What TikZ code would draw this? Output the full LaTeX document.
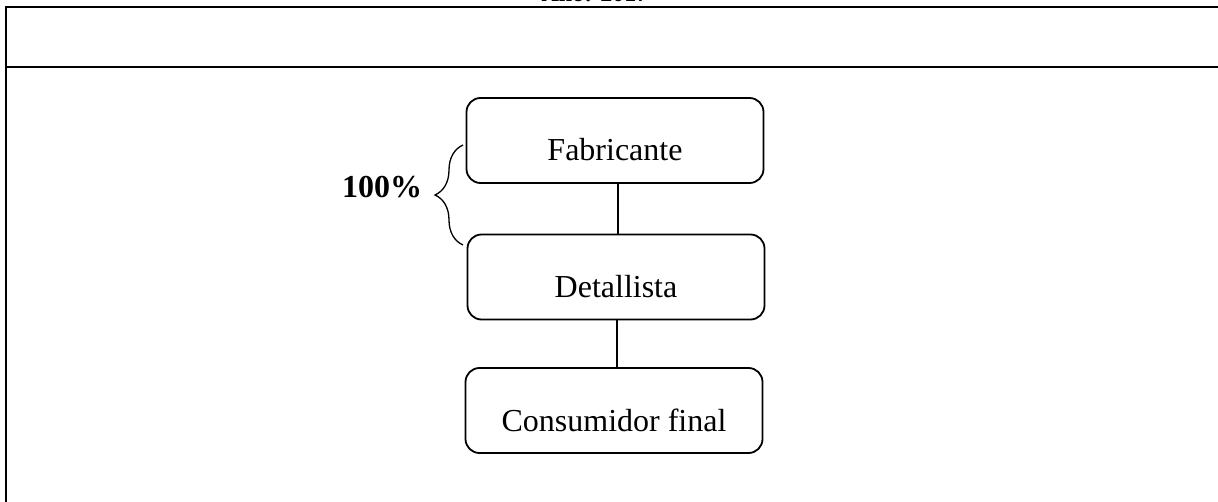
\documentclass[tikz,border=0pt]{standalone}
\usepackage{fontspec}
\setmainfont{Liberation Serif}
\usetikzlibrary{decorations.pathreplacing}
\begin{document}
\begin{tikzpicture}[x=1pt,y=-1pt,
  stage/.style={draw, line width=1.8pt, rounded corners=14pt, minimum width=297pt, minimum height=85pt, font=\fontsize{32}{36}\selectfont, inner sep=0pt, text height=41pt, text depth=0pt},
  frameline/.style={line width=1.4pt},
  link/.style={line width=1.6pt}]
\useasboundingbox (0,0) rectangle (1218,502);
\clip (0,0) rectangle (1218,502);
% partly visible heading
\node[anchor=base, font=\bfseries\fontsize{24}{28}\selectfont, inner sep=0pt] (head) at (595,2) {Año: 2017};
% frame
\coordinate (tl) at (6,7);
\coordinate (tr) at (1218,7);
\coordinate (ml) at (6,67);
\coordinate (mr) at (1218,67);
\coordinate (bl) at (6,502);
\draw[frameline] (tr) -- (tl) -- (bl);
\draw[frameline] (ml) -- (mr);
% stages
\node[stage] (fab) at (615,140.5) {Fabricante};
\node[stage] (det) at (616,277) {Detallista};
\node[stage] (con) at (614,410.5) {Consumidor final};
\draw[link] (fab.south -| 618,0) -- (det.north -| 618,0);
\draw[link] (det.south -| 617,0) -- (con.north -| 617,0);
% brace
\coordinate (bb) at (463,245);
\coordinate (bt) at (463,145);
\draw[line width=1.3pt, decoration={brace, amplitude=28pt, aspect=0.5}, decorate] (bb) -- (bt);
\node[anchor=base west, font=\bfseries\fontsize{32}{36}\selectfont, inner sep=0pt] (pct) at (342,198) {100\%};
\end{tikzpicture}
\end{document}
